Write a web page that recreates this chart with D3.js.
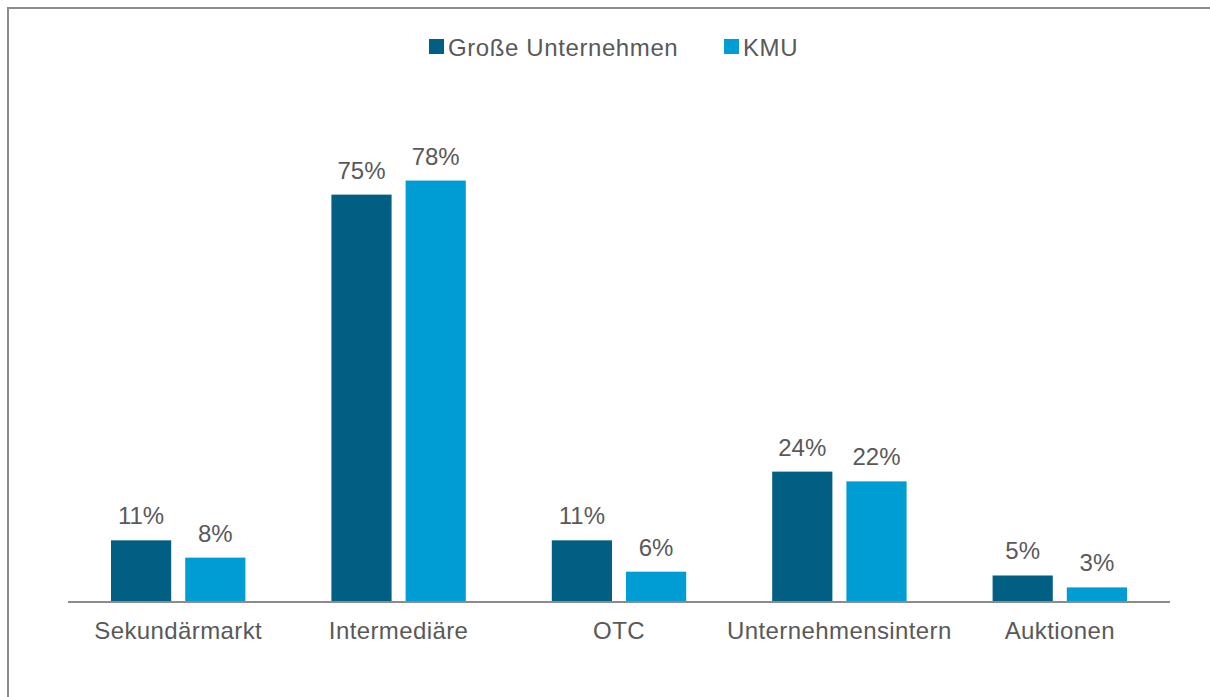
<!DOCTYPE html>
<html>
<head>
<meta charset="utf-8">
<script src="https://cdn.jsdelivr.net/npm/d3@7"></script>
<style>
  html, body { margin: 0; padding: 0; background: #fff; overflow: hidden; }
  svg { display: block; }
  text { font-family: "Liberation Sans", Arial, sans-serif; fill: #595959; }
</style>
</head>
<body>
<svg id="chart" width="1210" height="697"></svg>
<script>
const categories = ["Sekundärmarkt", "Intermediäre", "OTC", "Unternehmensintern", "Auktionen"];
const seriesNames = ["Große Unternehmen", "KMU"];
const grosseUnternehmen = [11.4, 75.3, 11.4, 24.1, 4.9];
const kmu = [8.2, 77.9, 5.6, 22.3, 2.7];
const colors = ["#005f83", "#009cd4"];

const svg = d3.select("#chart");

// frame
svg.append("rect")
  .attr("x", 8).attr("y", 8)
  .attr("width", 1220).attr("height", 720)
  .attr("fill", "none").attr("stroke", "#8c8c8c").attr("stroke-width", 2);

const x0 = d3.scaleBand().domain(categories).range([68, 1170]).paddingInner(0).paddingOuter(0);
const x1 = d3.scaleBand().domain(seriesNames).range([43, x0.bandwidth() - 43]).paddingInner(0.189).paddingOuter(0);
const y = d3.scaleLinear().domain([0, 80]).range([602, 169.2]);

const seriesValues = [grosseUnternehmen, kmu];
const data = [];
categories.forEach((c, i) => {
  seriesNames.forEach((s, j) => data.push({ cat: c, series: s, value: seriesValues[j][i], color: colors[j] }));
});

svg.selectAll("rect.bar").data(data).enter().append("rect")
  .attr("class", "bar")
  .attr("x", d => x0(d.cat) + x1(d.series))
  .attr("y", d => y(d.value))
  .attr("width", x1.bandwidth())
  .attr("height", d => y(0) - y(d.value))
  .attr("fill", d => d.color);

svg.selectAll("text.val").data(data).enter().append("text")
  .attr("class", "val")
  .attr("x", d => x0(d.cat) + x1(d.series) + x1.bandwidth() / 2)
  .attr("y", d => y(d.value) - 16)
  .attr("text-anchor", "middle")
  .style("font-size", "24px")
  .text(d => Math.round(d.value) + "%");

// x axis
const xAxis = d3.axisBottom(x0).tickSize(0).tickPadding(0);
const gx = svg.append("g").attr("transform", `translate(0,${y(0)})`).call(xAxis);
gx.select(".domain").attr("stroke", "#8c8c8c").attr("stroke-width", 2).attr("d", "M68,0H1170");
gx.selectAll(".tick text")
  .attr("y", 37).attr("dy", 0)
  .style("font-size", "24px")
  .style("letter-spacing", "0.4px")
  .style("fill", "#595959")
  .style("font-family", "'Liberation Sans', Arial, sans-serif");

// legend
const legendX = [429, 724];
const lg = svg.selectAll("g.leg").data(seriesNames).enter().append("g")
  .attr("class", "leg")
  .attr("transform", (d, i) => `translate(${legendX[i]},39)`);
lg.append("rect").attr("width", 15).attr("height", 15).attr("fill", (d, i) => colors[i]);
lg.append("text").attr("x", 19).attr("y", 17)
  .style("font-size", "24px")
  .style("letter-spacing", "0.6px")
  .text(d => d);
</script>
</body>
</html>
